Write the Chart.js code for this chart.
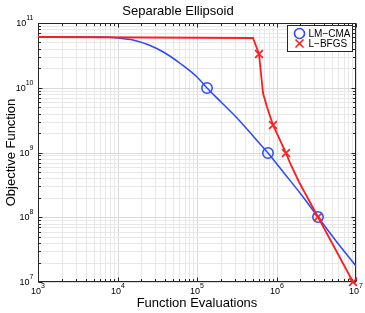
<!DOCTYPE html>
<html>
<head>
<meta charset="utf-8">
<script src="https://cdn.jsdelivr.net/npm/chart.js@4.4.1/dist/chart.umd.min.js"></script>
<style>
  html, body { margin: 0; padding: 0; background: #fff; }
  #wrap { width: 365px; height: 313px; }
</style>
</head>
<body>
<div id="wrap"><canvas id="ellipsoidChart" width="365" height="313"></canvas></div>
<script>
// values (log-log axes)
const lmcmaEvals = [1e3, 3.98e3, 6.31e3, 1e4, 1.585e4, 2.512e4, 3.981e4, 6.31e4, 1e5, 1.35e5, 2e5, 3.16e5, 5.01e5, 7.85e5, 1.26e6, 2e6, 3.37e6, 5.62e6, 1e7];
const lmcmaF = [6.08e10, 6.07e10, 6.01e10, 5.82e10, 5.37e10, 4.57e10, 3.47e10, 2.34e10, 1.45e10, 1.0e10, 6.03e9, 3.47e9, 1.82e9, 1.0e9, 4.9e8, 2.34e8, 1.0e8, 4.37e7, 1.74e7];
const lmcmaMarkEvals = [1.35e5, 7.85e5, 3.37e6];
const lmcmaMarkF = [1e10, 1e9, 1e8];

const lbfgsEvals = [1e3, 5.01e5, 6.1e5, 6.71e5, 7.62e5, 9.04e5, 1.3e6, 1.5e6, 1.9e6, 3.37e6, 9.1e6];
const lbfgsF = [6.08e10, 5.96e10, 3.29e10, 8.2e9, 5.09e9, 2.7e9, 1.0e9, 6.89e8, 3.5e8, 1.02e8, 1e7];
const lbfgsMarkEvals = [6.1e5, 9.04e5, 1.3e6, 3.37e6, 9.1e6];
const lbfgsMarkF = [3.29e10, 2.7e9, 1.0e9, 1.02e8, 1e7];

// tick labels are 10 with a raised exponent
const tickBase = "10";
const xDecades = [3, 4, 5, 6, 7];
const xTickExps = ["3", "4", "5", "6", "7"];
const yDecades = [7, 8, 9, 10, 11];
const yTickExps = ["7", "8", "9", "10", "11"];

const FONT = "'Liberation Sans', Arial, Helvetica, sans-serif";
const BLUE = "#2a48ff";
const RED = "#ff1c1c";

const toXY = (xs, ys) => xs.map((x, i) => ({ x: x, y: ys[i] }));

// 1..9 x 10^d for every decade, so the minor grid matches
function decadeTicks(decades) {
  return function (scale) {
    const ticks = [];
    decades.forEach((d, i) => {
      if (i === decades.length - 1) {
        ticks.push({ value: Math.pow(10, d), major: true });
        return;
      }
      for (let m = 1; m <= 9; m++) {
        ticks.push({ value: m * Math.pow(10, d), major: m === 1 });
      }
    });
    scale.ticks = ticks;
  };
}

const gridColor = (c) => (c.tick && c.tick.major ? "#dadada" : "#e8e8e8");

function drawPowerLabels(ctx, scale, decades, exps, horizontal, edge) {
  decades.forEach((d, i) => {
    const p = scale.getPixelForValue(Math.pow(10, d));
    ctx.font = "9px " + FONT;
    const wb = ctx.measureText(tickBase).width;
    ctx.font = "7px " + FONT;
    const we = ctx.measureText(exps[i]).width;
    let x, y;
    if (horizontal) {
      x = p - (wb + we) / 2;
      y = edge + 9.5;
    } else {
      x = edge - 4.5 - (wb + we);
      y = p + 0.5;
    }
    ctx.font = "9px " + FONT;
    ctx.fillText(tickBase, x, y);
    ctx.font = "7px " + FONT;
    ctx.fillText(exps[i], x + wb, y - 5);
  });
}

// matlab style box, inner tick marks, tick labels and boxed legend
const boxPlugin = {
  id: "matlabBox",
  beforeDatasetsDraw(chart) {
    const { ctx, chartArea: a, scales } = chart;
    const L = Math.round(a.left) + 0.5, R = Math.round(a.right) - 0.5;
    const T = Math.round(a.top) + 0.5, B = Math.round(a.bottom) - 0.5;
    ctx.save();
    ctx.strokeStyle = "#262626";
    ctx.lineWidth = 1;
    ctx.beginPath();
    scales.x.ticks.forEach((t) => {
      const px = Math.round(scales.x.getPixelForValue(t.value)) + 0.5;
      const len = t.major ? 4 : 2.5;
      ctx.moveTo(px, B); ctx.lineTo(px, B - len);
      ctx.moveTo(px, T); ctx.lineTo(px, T + len);
    });
    scales.y.ticks.forEach((t) => {
      const py = Math.round(scales.y.getPixelForValue(t.value)) + 0.5;
      const len = t.major ? 4 : 2.5;
      ctx.moveTo(L, py); ctx.lineTo(L + len, py);
      ctx.moveTo(R, py); ctx.lineTo(R - len, py);
    });
    ctx.stroke();
    ctx.strokeRect(L, T, R - L, B - T);

    ctx.fillStyle = "#000";
    ctx.textBaseline = "middle";
    ctx.textAlign = "left";
    drawPowerLabels(ctx, scales.x, xDecades, xTickExps, true, a.bottom);
    drawPowerLabels(ctx, scales.y, yDecades, yTickExps, false, a.left);
    ctx.restore();
  },
  afterDatasetsDraw(chart) {
    const { ctx, chartArea: a } = chart;
    const items = chart.data.datasets.filter((d) => d.inLegend);
    const w = 65, h = 26;
    const x0 = Math.round(a.right) - 4 - w + 0.5;
    const y0 = Math.round(a.top) + 2 + 0.5;
    ctx.save();
    ctx.fillStyle = "#fff";
    ctx.fillRect(x0, y0, w, h);
    ctx.strokeStyle = "#262626";
    ctx.lineWidth = 1;
    ctx.strokeRect(x0, y0, w, h);
    ctx.font = "10px " + FONT;
    ctx.textBaseline = "middle";
    ctx.textAlign = "left";
    items.forEach((d, i) => {
      const cy = y0 + 8 + i * 10;
      const cx = x0 + 12;
      ctx.strokeStyle = d.borderColor;
      ctx.lineWidth = 1.6;
      ctx.beginPath();
      if (d.pointStyle === "circle") {
        ctx.arc(cx, cy, 5, 0, Math.PI * 2);
      } else {
        ctx.moveTo(cx - 4, cy - 4); ctx.lineTo(cx + 4, cy + 4);
        ctx.moveTo(cx - 4, cy + 4); ctx.lineTo(cx + 4, cy - 4);
      }
      ctx.stroke();
      ctx.fillStyle = "#000";
      ctx.fillText(d.label, x0 + 21, cy + 0.5);
    });
    ctx.restore();
  },
};

const canvas = document.getElementById("ellipsoidChart");
const ctx = canvas.getContext("2d");

const chart = new Chart(ctx, {
  type: "line",
  data: {
    datasets: [
      {
        label: "LM−CMA line",
        data: toXY(lmcmaEvals, lmcmaF),
        borderColor: BLUE,
        borderWidth: 1.5,
        pointRadius: 0,
        cubicInterpolationMode: "monotone",
        order: 4,
      },
      {
        label: "LM−CMA",
        inLegend: true,
        data: toXY(lmcmaMarkEvals, lmcmaMarkF),
        showLine: false,
        pointStyle: "circle",
        pointRadius: 5.2,
        pointBorderWidth: 1.5,
        borderColor: BLUE,
        pointBackgroundColor: "rgba(0,0,0,0)",
        clip: false,
        order: 3,
      },
      {
        label: "L−BFGS line",
        data: toXY(lbfgsEvals, lbfgsF),
        borderColor: RED,
        borderWidth: 1.8,
        pointRadius: 0,
        tension: 0,
        order: 2,
      },
      {
        label: "L−BFGS",
        inLegend: true,
        data: toXY(lbfgsMarkEvals, lbfgsMarkF),
        showLine: false,
        pointStyle: "crossRot",
        pointRadius: 5.5,
        pointBorderWidth: 1.6,
        borderColor: RED,
        clip: false,
        order: 1,
      },
    ],
  },
  options: {
    responsive: false,
    animation: false,
    devicePixelRatio: 1,
    events: [],
    layout: { padding: { left: 0, right: 9, top: 0, bottom: 0 } },
    scales: {
      x: {
        type: "logarithmic",
        min: 1e3,
        max: 1e7,
        alignToPixels: true,
        afterBuildTicks: decadeTicks(xDecades),
        afterFit: (s) => { s.height = 31; },
        grid: { color: gridColor, drawTicks: false, lineWidth: 1 },
        border: { display: false },
        ticks: { display: false, autoSkip: false },
        title: {
          display: true,
          text: "Function Evaluations",
          color: "#000",
          font: { family: FONT, size: 13, lineHeight: 1.2 },
          padding: { top: 0, bottom: 2 },
        },
      },
      y: {
        type: "logarithmic",
        min: 1e7,
        max: 1e11,
        alignToPixels: true,
        afterBuildTicks: decadeTicks(yDecades),
        afterFit: (s) => { s.width = 38; },
        grid: { color: gridColor, drawTicks: false, lineWidth: 1 },
        border: { display: false },
        ticks: { display: false, autoSkip: false },
        title: {
          display: true,
          text: "Objective Function",
          color: "#000",
          font: { family: FONT, size: 13, lineHeight: 1.2 },
          padding: { top: 4, bottom: 0 },
        },
      },
    },
    plugins: {
      legend: { display: false },
      tooltip: { enabled: false },
      title: {
        display: true,
        text: "Separable Ellipsoid",
        color: "#000",
        font: { family: FONT, size: 13, weight: "normal", lineHeight: 1.2 },
        padding: { top: 3.5, bottom: 3.9 },
      },
    },
  },
  plugins: [boxPlugin],
});
</script>
</body>
</html>
